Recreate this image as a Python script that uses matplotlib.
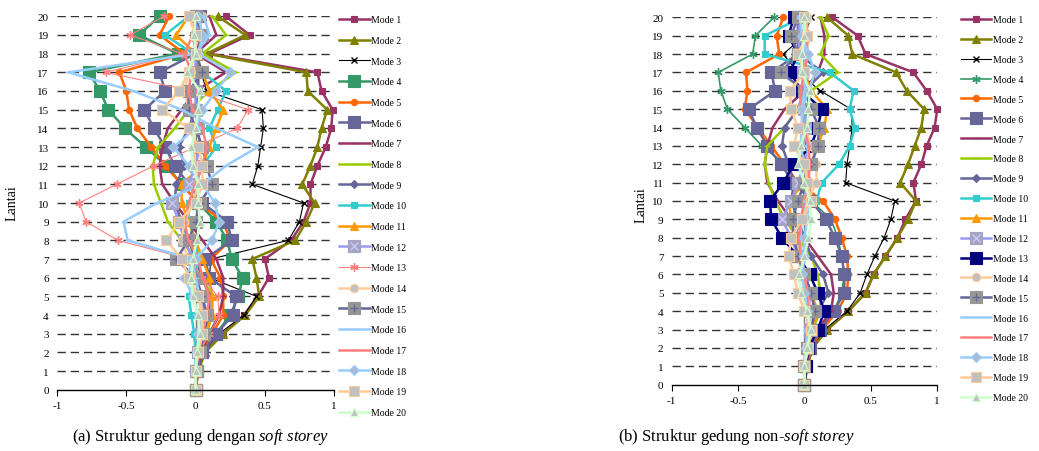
import matplotlib
matplotlib.use("Agg")
import matplotlib.pyplot as plt
from matplotlib.legend_handler import HandlerTuple

plt.rcParams['font.family'] = ['Liberation Serif', 'DejaVu Serif']
plt.rcParams['mathtext.fontset'] = 'custom'
plt.rcParams['mathtext.rm'] = 'Liberation Serif'
plt.rcParams['mathtext.it'] = 'Liberation Serif:italic'

# lantai 0..20
floors = list(range(21))
x_ticks = [-1, -0.5, 0, 0.5, 1]
x_tick_labels = ['-1', '-0.5', '0', '0.5', '1']
mode_labels = ['Mode 1', 'Mode 2', 'Mode 3', 'Mode 4', 'Mode 5', 'Mode 6', 'Mode 7',
               'Mode 8', 'Mode 9', 'Mode 10', 'Mode 11', 'Mode 12', 'Mode 13',
               'Mode 14', 'Mode 15', 'Mode 16', 'Mode 17', 'Mode 18', 'Mode 19', 'Mode 20']

# (a) soft storey
a_mode1 = [0, 0.02, 0.06, 0.20, 0.35, 0.45, 0.53, 0.50, 0.69, 0.78, 0.83, 0.83, 0.88, 0.94, 0.98, 0.99, 0.91, 0.88, 0.10, 0.39, 0.22]
a_mode2 = [0, 0.02, 0.07, 0.20, 0.36, 0.46, 0.44, 0.41, 0.72, 0.80, 0.86, 0.77, 0.83, 0.88, 0.91, 0.95, 0.81, 0.80, 0.08, 0.36, 0.16]
a_mode3 = [0, 0.02, 0.05, 0.17, 0.35, 0.44, 0.10, 0.11, 0.67, 0.75, 0.78, 0.41, 0.45, 0.47, 0.49, 0.48, 0.08, 0.04, 0.00, -0.02, 0.02]
a_mode4 = [0, 0.01, 0.05, 0.15, 0.25, 0.31, 0.34, 0.26, 0.23, 0.15, 0.02, -0.10, -0.21, -0.36, -0.51, -0.63, -0.69, -0.77, -0.13, -0.41, -0.26]
a_mode5 = [0, 0.01, 0.04, 0.12, 0.20, 0.20, 0.18, 0.11, 0.25, 0.20, 0.02, -0.10, -0.22, -0.32, -0.42, -0.48, -0.50, -0.55, -0.08, -0.26, -0.19]
a_mode6 = [0, 0.01, 0.05, 0.15, 0.27, 0.29, 0.10, 0.07, 0.26, 0.23, 0.05, -0.05, -0.15, -0.22, -0.30, -0.37, -0.22, -0.26, 0.00, 0.04, 0.03]
a_mode7 = [0, 0.01, 0.04, 0.10, 0.17, 0.20, 0.20, 0.15, 0.05, -0.05, -0.15, -0.24, -0.26, -0.24, -0.20, -0.10, 0.00, 0.22, 0.00, 0.15, 0.10]
a_mode8 = [0, 0.01, 0.03, 0.08, 0.12, 0.12, 0.05, 0.00, -0.10, -0.20, -0.25, -0.30, -0.31, -0.27, -0.15, -0.05, 0.10, 0.29, 0.05, 0.22, 0.12]
a_mode9 = [0, 0.00, 0.02, 0.06, 0.10, 0.10, 0.05, 0.00, -0.05, -0.10, -0.15, -0.14, -0.08, -0.12, -0.05, 0.00, 0.02, 0.02, 0.00, 0.00, 0.00]
a_mode10 = [0, 0.00, 0.00, -0.01, -0.03, -0.05, 0.00, 0.02, 0.00, -0.05, -0.05, 0.00, 0.05, 0.15, 0.10, 0.16, 0.22, 0.05, -0.02, -0.22, -0.05]
a_mode11 = [0, 0.01, 0.03, 0.07, 0.12, 0.12, 0.10, 0.05, 0.00, -0.05, -0.10, -0.10, 0.05, 0.10, 0.15, 0.20, 0.10, 0.05, 0.00, -0.14, -0.05]
a_mode12 = [0, 0.00, 0.02, 0.04, 0.06, 0.05, 0.00, -0.02, -0.08, -0.12, -0.17, -0.05, 0.00, 0.03, 0.02, 0.00, 0.00, 0.00, 0.00, 0.02, 0.00]
a_mode13 = [0, 0.01, 0.03, 0.10, 0.17, 0.16, 0.05, -0.05, -0.56, -0.79, -0.84, -0.57, -0.30, 0.00, 0.30, 0.38, -0.02, -0.65, -0.10, -0.47, -0.23]
a_mode14 = [0, 0.00, 0.02, 0.04, 0.05, 0.03, 0.00, -0.05, -0.10, -0.08, -0.02, 0.02, 0.00, -0.02, 0.00, -0.05, -0.08, -0.05, 0.00, 0.02, 0.05]
a_mode15 = [0, 0.01, 0.03, 0.06, 0.08, 0.05, 0.00, -0.14, -0.05, 0.00, 0.03, 0.12, 0.08, 0.05, 0.00, -0.05, -0.05, 0.05, 0.00, 0.05, 0.00]
a_mode16 = [0, 0.00, 0.01, 0.03, 0.04, 0.03, 0.00, -0.03, -0.49, -0.52, -0.28, 0.05, 0.22, 0.45, 0.15, -0.10, -0.45, -0.92, 0.00, 0.10, 0.06]
a_mode17 = [0, 0.00, 0.02, 0.05, 0.08, 0.10, 0.05, 0.02, -0.05, -0.08, -0.05, 0.00, 0.05, 0.08, 0.05, -0.02, -0.05, -0.03, -0.08, -0.02, 0.00]
a_mode18 = [0, 0.00, 0.01, 0.02, 0.02, -0.02, -0.08, 0.00, 0.12, 0.17, 0.14, 0.05, -0.05, -0.16, 0.00, 0.05, 0.15, 0.25, 0.02, 0.05, 0.02]
a_mode19 = [0, 0.00, 0.02, 0.05, 0.05, 0.02, -0.05, -0.10, -0.21, -0.12, 0.00, 0.05, 0.05, 0.02, -0.05, -0.24, -0.12, -0.05, 0.00, 0.00, -0.05]
a_mode20 = [0, 0.00, 0.01, 0.03, 0.02, -0.02, -0.03, -0.02, 0.01, 0.03, 0.02, 0.02, -0.02, -0.03, 0.00, 0.02, 0.03, -0.06, 0.00, -0.01, 0.00]

# (b) non-soft storey
b_mode1 = [0, 0.02, 0.06, 0.17, 0.33, 0.46, 0.52, 0.61, 0.70, 0.76, 0.84, 0.82, 0.88, 0.92, 0.98, 1.00, 0.92, 0.82, 0.46, 0.40, 0.21]
b_mode2 = [0, 0.02, 0.06, 0.17, 0.33, 0.46, 0.52, 0.61, 0.70, 0.78, 0.84, 0.72, 0.78, 0.83, 0.88, 0.90, 0.77, 0.69, 0.36, 0.33, 0.17]
b_mode3 = [0, 0.01, 0.05, 0.15, 0.32, 0.42, 0.47, 0.53, 0.60, 0.65, 0.68, 0.31, 0.32, 0.34, 0.36, 0.35, 0.12, -0.05, -0.16, 0.00, 0.05]
b_mode4 = [0, 0.01, 0.05, 0.12, 0.22, 0.28, 0.30, 0.28, 0.25, 0.20, 0.05, -0.05, -0.15, -0.32, -0.45, -0.58, -0.63, -0.65, -0.39, -0.37, -0.23]
b_mode5 = [0, 0.01, 0.05, 0.13, 0.25, 0.32, 0.33, 0.32, 0.28, 0.23, 0.14, -0.05, -0.15, -0.25, -0.35, -0.45, -0.43, -0.44, -0.19, -0.21, -0.16]
b_mode6 = [0, 0.01, 0.04, 0.12, 0.22, 0.30, 0.30, 0.28, 0.23, 0.16, 0.05, -0.08, -0.18, -0.28, -0.36, -0.42, -0.22, -0.25, -0.05, -0.02, -0.05]
b_mode7 = [0, 0.01, 0.04, 0.10, 0.20, 0.22, 0.20, 0.10, 0.00, -0.10, -0.20, -0.28, -0.30, -0.28, -0.24, -0.15, 0.00, 0.10, 0.15, 0.15, 0.12]
b_mode8 = [0, 0.00, 0.02, 0.06, 0.12, 0.12, 0.10, 0.05, -0.05, -0.15, -0.22, -0.27, -0.30, -0.28, -0.15, -0.05, 0.05, 0.25, 0.12, 0.18, 0.12]
b_mode9 = [0, 0.00, 0.02, 0.05, 0.10, 0.18, 0.14, 0.05, 0.00, -0.05, -0.10, -0.08, -0.12, -0.17, -0.15, -0.05, 0.00, 0.14, -0.05, -0.05, -0.05]
b_mode10 = [0, 0.00, 0.02, 0.05, 0.08, 0.05, 0.00, -0.02, -0.05, -0.05, 0.09, 0.13, 0.26, 0.34, 0.38, 0.34, 0.37, 0.19, -0.30, -0.30, -0.02]
b_mode11 = [0, 0.00, 0.02, 0.06, 0.10, 0.05, 0.00, -0.05, -0.08, -0.10, -0.12, 0.00, 0.05, 0.10, 0.15, 0.17, 0.05, 0.00, 0.00, 0.00, 0.00]
b_mode12 = [0, 0.00, 0.02, 0.04, 0.05, 0.03, 0.00, -0.05, -0.10, -0.17, -0.10, -0.05, 0.00, 0.03, 0.02, 0.00, 0.00, -0.02, -0.03, -0.05, -0.03]
b_mode13 = [0, 0.01, 0.03, 0.10, 0.15, 0.10, 0.04, -0.05, -0.17, -0.25, -0.26, -0.16, -0.08, 0.05, 0.10, 0.13, -0.02, -0.11, -0.05, -0.12, -0.08]
b_mode14 = [0, 0.00, 0.02, 0.04, 0.05, 0.02, -0.02, -0.05, -0.05, -0.02, 0.02, 0.09, 0.09, 0.05, 0.00, -0.03, -0.02, 0.00, 0.02, 0.02, 0.02]
b_mode15 = [0, 0.00, 0.02, 0.05, 0.08, 0.05, 0.00, -0.05, -0.08, -0.09, -0.05, 0.00, 0.05, 0.10, 0.11, 0.05, 0.00, -0.18, -0.05, -0.10, -0.05]
b_mode16 = [0, 0.00, 0.01, 0.03, 0.04, 0.02, 0.00, -0.02, -0.03, -0.02, 0.00, 0.02, 0.03, 0.02, 0.00, -0.02, 0.00, 0.02, 0.00, 0.00, 0.00]
b_mode17 = [0, 0.00, 0.01, 0.02, 0.03, 0.02, 0.00, -0.03, -0.04, -0.03, 0.00, 0.03, 0.04, 0.03, 0.00, -0.03, -0.03, 0.00, 0.02, 0.02, 0.01]
b_mode18 = [0, 0.00, 0.01, 0.03, 0.02, 0.00, -0.02, 0.00, 0.00, 0.02, 0.03, 0.02, 0.00, -0.03, -0.02, -0.02, 0.03, 0.08, 0.03, -0.02, -0.03]
b_mode19 = [0, 0.00, 0.03, 0.05, 0.00, -0.05, -0.08, -0.12, -0.10, -0.02, 0.05, 0.02, 0.00, -0.08, -0.05, -0.10, -0.11, 0.00, -0.05, 0.02, 0.00]
b_mode20 = [0, 0.00, 0.02, 0.05, 0.02, -0.03, -0.04, 0.00, 0.03, 0.05, 0.04, 0.00, -0.05, -0.03, 0.02, 0.03, 0.04, -0.02, -0.02, 0.00, 0.00]

a_modes = [a_mode1, a_mode2, a_mode3, a_mode4, a_mode5, a_mode6, a_mode7, a_mode8, a_mode9, a_mode10,
           a_mode11, a_mode12, a_mode13, a_mode14, a_mode15, a_mode16, a_mode17, a_mode18, a_mode19, a_mode20]
b_modes = [b_mode1, b_mode2, b_mode3, b_mode4, b_mode5, b_mode6, b_mode7, b_mode8, b_mode9, b_mode10,
           b_mode11, b_mode12, b_mode13, b_mode14, b_mode15, b_mode16, b_mode17, b_mode18, b_mode19, b_mode20]

THICK = 1.8
ASTER = (6, 2, 0)
# gaya excel: (warna garis, marker, ukuran, isi marker, tepi marker, tebal garis, marker tambahan)
base_style = {
    1: ('#993366', 's', 4.5, None, None, THICK, None),
    2: ('#808000', '^', 5.5, None, None, THICK, None),
    3: ('black', 'x', 5, None, None, 0.8, None),
    4: ('#339966', 's', 8, None, None, THICK, None),
    5: ('#FF6600', 'o', 4.5, None, None, THICK, None),
    6: ('#666699', 's', 8, None, None, THICK, None),
    7: ('#993366', '_', 4, None, None, THICK, None),
    8: ('#99CC00', '_', 5, None, None, THICK, None),
    9: ('#666699', 'D', 4, None, None, THICK, None),
    10: ('#33CCCC', 's', 5, None, None, THICK, None),
    11: ('#FF9900', '^', 6, None, None, THICK, None),
    12: ('#9999FF', 's', 8, '#A3A3C2', '#A3A3C2', THICK, ('x', '#C8C8FF')),
    13: ('#FF8080', ASTER, 6, None, None, 0.8, None),
    14: ('#FFCC99', 'o', 6, '#C0C0C0', '#FFCC99', THICK, None),
    15: ('#666699', 's', 8, '#969696', '#969696', THICK, ('+', '#666699')),
    16: ('#99CCFF', '_', 4, None, None, THICK, None),
    17: ('#FF8080', '_', 4, None, None, THICK, None),
    18: ('#99CCFF', 'D', 5, '#A6BCD6', '#99CCFF', THICK, None),
    19: ('#FFCC99', 's', 7.5, '#C0C0C0', '#FFCC99', THICK, None),
    20: ('#CCFFCC', '^', 6, '#C0C0C0', '#CCFFCC', THICK, None),
}
b_override = {
    4: ('#339966', ASTER, 6, None, None, 1.2, None),
    13: ('#000080', 's', 8, None, None, THICK, None),
}


def draw_panel(ax, modes, overrides):
    handles = []
    for i, xs in enumerate(modes, start=1):
        c, m, ms, mfc, mec, lw, extra = overrides.get(i, base_style[i])
        line, = ax.plot(xs, floors, color=c, marker=m, ms=ms, lw=lw,
                        mfc=mfc if mfc else c, mec=mec if mec else c,
                        mew=1 if m in ('x', '_', ASTER) else 0.8, clip_on=False, zorder=2 + i * 0.01)
        if extra:
            ov, = ax.plot(xs, floors, ls='none', marker=extra[0], ms=ms * 0.8, mec=extra[1],
                          mew=1, clip_on=False, zorder=2 + i * 0.01 + 0.005)
            handles.append((line, ov))
        else:
            handles.append(line)

    for f in floors[1:]:
        ax.axhline(f, color='#333333', lw=1, ls=(0, (6, 3.5)), zorder=1)
    ax.axvline(0, color='#808080', lw=1, zorder=0.5)

    ax.set_xlim(-1, 1)
    ax.set_ylim(0, 20)
    ax.set_xticks(x_ticks)
    ax.set_xticklabels(x_tick_labels)
    ax.set_yticks(floors)
    for s in ['top', 'right', 'left']:
        ax.spines[s].set_visible(False)
    ax.spines['bottom'].set_color('black')
    ax.spines['bottom'].set_linewidth(1)
    ax.tick_params(axis='x', direction='out', length=4, width=0.8, labelsize=8, pad=4)
    ax.tick_params(axis='y', length=0, labelsize=8, pad=6)
    ax.patch.set_alpha(0)
    return handles


fig = plt.figure(figsize=(10.39, 4.52), dpi=100)
ax1 = fig.add_axes([0.0549, 0.1356, 0.2666, 0.8261])
ax2 = fig.add_axes([0.6465, 0.1467, 0.2556, 0.8128])

h1 = draw_panel(ax1, a_modes, {})
h2 = draw_panel(ax2, b_modes, b_override)

leg_kw = dict(loc='upper left', bbox_transform=fig.transFigure, frameon=False, fontsize=7,
              handletextpad=0.15, borderpad=0, borderaxespad=0, numpoints=1,
              handler_map={tuple: HandlerTuple(ndivide=1)})
fig.legend(h1, mode_labels, bbox_to_anchor=(0.326, 0.964), handlelength=3.2,
           labelspacing=1.20, **leg_kw)
fig.legend(h2, mode_labels, bbox_to_anchor=(0.925, 0.964), handlelength=3.1,
           labelspacing=1.12, **leg_kw)

fig.text(12 / 1039, 1 - 203 / 452, 'Lantai', rotation=90, ha='center', va='center', fontsize=10)
fig.text(641 / 1039, 1 - 205 / 452, 'Lantai', rotation=90, ha='center', va='center', fontsize=10)

fig.text(201 / 1039, 1 - 437 / 452, r'(a) Struktur gedung dengan $\mathit{soft\ storey}$',
         ha='center', va='center', fontsize=12)
fig.text(736 / 1039, 1 - 437 / 452, r'(b) Struktur gedung non-$\mathit{soft\ storey}$',
         ha='center', va='center', fontsize=12)

fig.savefig('out.png', dpi=100)
